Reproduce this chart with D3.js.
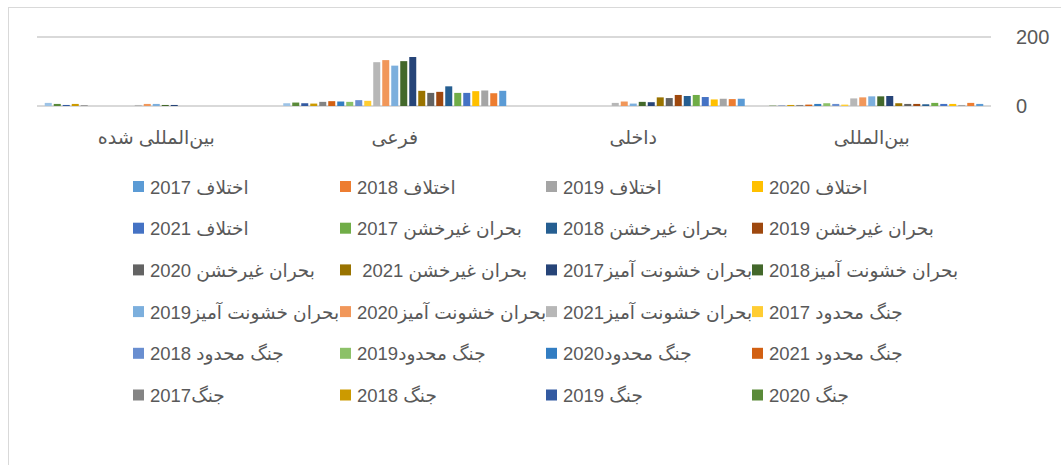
<!DOCTYPE html>
<html><head><meta charset="utf-8">
<script src="https://cdn.jsdelivr.net/npm/d3@7"></script>
<style>
body{margin:0;background:#fff}
svg{display:block}
text{font-family:"Liberation Sans",Arial,"DejaVu Sans",sans-serif;fill:#595959}
</style>
</head><body>
<svg id="c" width="1061" height="465"></svg>
<script>
// ---- data ----
const categories = ["بین\u200cالمللی", "داخلی", "فرعی", "بین\u200cالمللی شده"];
const seriesNames = [
  "اختلاف 2017", "اختلاف 2018", "اختلاف 2019", "اختلاف 2020",
  "اختلاف 2021", "بحران غیرخشن 2017", "بحران غیرخشن 2018", "بحران غیرخشن 2019",
  "بحران غیرخشن 2020", "بحران غیرخشن 2021 ", "بحران خشونت آمیز2017", "بحران خشونت آمیز2018",
  "بحران خشونت آمیز2019", "بحران خشونت آمیز2020", "بحران خشونت آمیز2021", "جنگ محدود 2017",
  "جنگ محدود 2018", "جنگ محدود2019", "جنگ محدود2020", "جنگ محدود 2021",
  "جنگ2017", "جنگ 2018", "جنگ 2019", "جنگ 2020",
  "جنگ 2021"
];
const seriesColors = [
  "#5B9BD5", "#ED7D31", "#A5A5A5", "#FFC000", "#4472C4", "#70AD47",
  "#255E91", "#9E480E", "#636363", "#997300", "#264478", "#43682B",
  "#7CAFDD", "#F1975A", "#B7B7B7", "#FFCD33", "#698ED0", "#8CC168",
  "#327DC2", "#D26012", "#848484", "#CC9A00", "#335AA1", "#5A8A39",
  "#9DC3E6"
];
// values per category, in series order (25 series)
const valuesInternational =     [6, 9, 3, 6, 6, 9, 5, 6, 6, 8, 29, 28, 28, 25, 22, 4, 6, 8, 6, 4, 3, 3, 1, 1, 0];
const valuesDomestic =          [21, 20, 21, 19, 26, 32, 29, 32, 23, 25, 11, 12, 7, 13, 9, 0, 0, 0, 0, 0, 0, 0, 0, 0, 0];
const valuesSubsidiary =        [44, 37, 45, 43, 38, 38, 57, 41, 38, 44, 142, 130, 117, 133, 127, 15, 17, 12, 13, 14, 12, 7, 8, 10, 8];
const valuesInternationalized = [0, 0, 0, 0, 0, 0, 0, 0, 0, 0, 3, 3, 6, 6, 3, 0, 0, 0, 0, 0, 2, 6, 3, 6, 9];
const yTicks = [0, 200];
const legendCount = 24; // legend area only shows the first 24 entries

const valuesByCategory = [valuesInternational, valuesDomestic, valuesSubsidiary, valuesInternationalized];

// ---- layout ----
const svg = d3.select("#c");
const plot = {left: 37, right: 991, top: 37, bottom: 106};
const gridColor = "#d9d9d9";

// chart border
svg.append("rect").attr("x", 8.5).attr("y", 7.5).attr("width", 1100).attr("height", 500)
  .attr("fill", "none").attr("stroke", gridColor).attr("stroke-width", 1);

const y = d3.scaleLinear().domain([0, 200]).range([plot.bottom, plot.top]);
const x0 = d3.scaleBand().domain(categories).range([plot.right, plot.left]); // reversed (RTL)
const band = x0.bandwidth();
const clusterW = band * seriesNames.length / (seriesNames.length + 1.5); // gap width 150%
const x1 = d3.scaleBand().domain(d3.range(seriesNames.length)).range([clusterW, 0]);
const off = (band - clusterW) / 2;

// gridlines
svg.append("g").selectAll("line").data(yTicks).join("line")
  .attr("x1", plot.left).attr("x2", plot.right)
  .attr("y1", d => y(d)).attr("y2", d => y(d))
  .attr("stroke", gridColor).attr("stroke-width", 2);

// right axis labels
svg.append("g").selectAll("text").data(yTicks).join("text")
  .attr("x", 1016).attr("y", d => y(d) + 7)
  .attr("font-size", 20).text(d => d);

// bars
const cats = svg.append("g").selectAll("g").data(categories).join("g")
  .attr("transform", c => `translate(${x0(c) + off},0)`);
cats.selectAll("rect")
  .data((c, ci) => valuesByCategory[ci].map((v, i) => ({v, i})).filter(d => d.v > 0))
  .join("rect")
  .attr("x", d => x1(d.i) + 1)
  .attr("width", x1.bandwidth() - 2)
  .attr("y", d => y(d.v))
  .attr("height", d => y(0) - y(d.v))
  .attr("fill", d => seriesColors[d.i]);

// category labels
svg.append("g").selectAll("text").data(categories).join("text")
  .attr("x", c => x0(c) + band / 2).attr("y", 144)
  .attr("text-anchor", "middle").attr("font-size", 19).text(c => c);

// legend
const legCols = 4, colX = [133, 340, 546, 752], rowY0 = 186.5, rowStep = 41.7;
const leg = svg.append("g").selectAll("g")
  .data(seriesNames.slice(0, legendCount).map((n, i) => ({n, i})))
  .join("g")
  .attr("transform", d => `translate(${colX[d.i % legCols]},${rowY0 + Math.floor(d.i / legCols) * rowStep})`);
leg.append("rect").attr("x", 0).attr("y", -5.5).attr("width", 11).attr("height", 11)
  .attr("fill", d => seriesColors[d.i]);
leg.append("text").attr("x", 17).attr("y", 7)
  .attr("direction", "rtl").attr("text-anchor", "end")
  .style("white-space", "pre")
  .attr("font-size", 18.5).text(d => d.n);
</script>
</body></html>
